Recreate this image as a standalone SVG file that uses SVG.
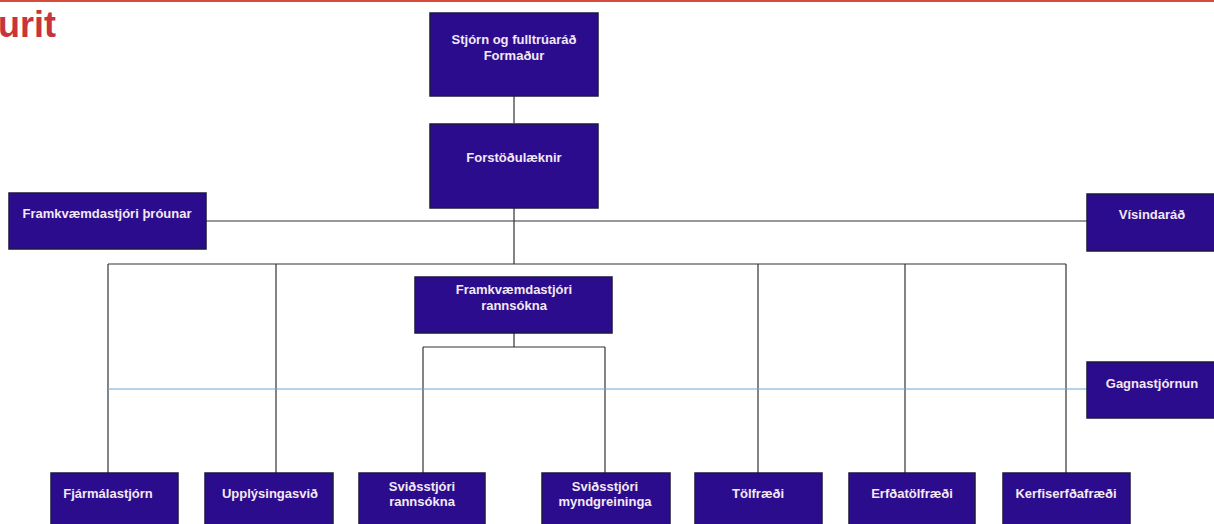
<svg xmlns="http://www.w3.org/2000/svg" width="1214" height="524" viewBox="0 0 1214 524">
<style>
.box{fill:#2a0c8c;stroke:#1c1840;stroke-width:1.5}
.t{font-family:"Liberation Sans",Arial,sans-serif;font-weight:bold;font-size:13px;fill:#f4e8f4;text-anchor:middle}
.c{stroke:#333;stroke-width:1.2;fill:none}
.b{stroke:#6aa6d6;stroke-width:1.2;fill:none}
</style>
<rect x="0" y="0" width="1214" height="524" fill="#ffffff"/>
<line x1="0" y1="1" x2="1214" y2="1" stroke="#d84a3c" stroke-width="2"/>
<text x="-2" y="37" font-family="Liberation Sans,Arial,sans-serif" font-weight="bold" font-size="36" fill="#c8343c">urit</text>
<g id="connectors">
<path class="c" d="M514 96V123M514 208V264M206 221H1088M108 264H1066M108 264V473M276 264V473M758 264V473M905 264V473M1066 264V473M514 333V347M423 347H605M423 347V473M605 347V473"/>
<path class="b" d="M108 389H1087"/>
</g>
<g id="n1"><rect class="box" x="430" y="13" width="168" height="83"/><text class="t" x="514" y="44">Stjórn og fulltrúaráð</text><text class="t" x="514" y="60">Formaður</text></g>
<g id="n2"><rect class="box" x="430" y="124" width="168" height="84"/><text class="t" x="514" y="162">Forstöðulæknir</text></g>
<g id="n3"><rect class="box" x="9" y="193" width="197" height="56"/><text class="t" x="107" y="218">Framkvæmdastjóri þróunar</text></g>
<g id="n4"><rect class="box" x="1087" y="194" width="130" height="57"/><text class="t" x="1152" y="219">Vísindaráð</text></g>
<g id="n5"><rect class="box" x="415" y="277" width="197" height="56"/><text class="t" x="514" y="294">Framkvæmdastjóri</text><text class="t" x="514" y="310">rannsókna</text></g>
<g id="n6"><rect class="box" x="1087" y="362" width="130" height="56"/><text class="t" x="1152" y="388">Gagnastjórnun</text></g>
<g id="n7"><rect class="box" x="51" y="473" width="127" height="56"/><text class="t" x="108" y="498">Fjármálastjórn</text></g>
<g id="n8"><rect class="box" x="205" y="473" width="128" height="56"/><text class="t" x="270" y="498">Upplýsingasvið</text></g>
<g id="n9"><rect class="box" x="359" y="473" width="126" height="56"/><text class="t" x="422" y="491">Sviðsstjóri</text><text class="t" x="422" y="506">rannsókna</text></g>
<g id="n10"><rect class="box" x="542" y="473" width="128" height="56"/><text class="t" x="605" y="491">Sviðsstjóri</text><text class="t" x="605" y="506">myndgreininga</text></g>
<g id="n11"><rect class="box" x="695" y="473" width="127" height="56"/><text class="t" x="758" y="498">Tölfræði</text></g>
<g id="n12"><rect class="box" x="849" y="473" width="126" height="56"/><text class="t" x="912" y="498">Erfðatölfræði</text></g>
<g id="n13"><rect class="box" x="1003" y="473" width="127" height="56"/><text class="t" x="1066" y="498">Kerfiserfðafræði</text></g>
</svg>
